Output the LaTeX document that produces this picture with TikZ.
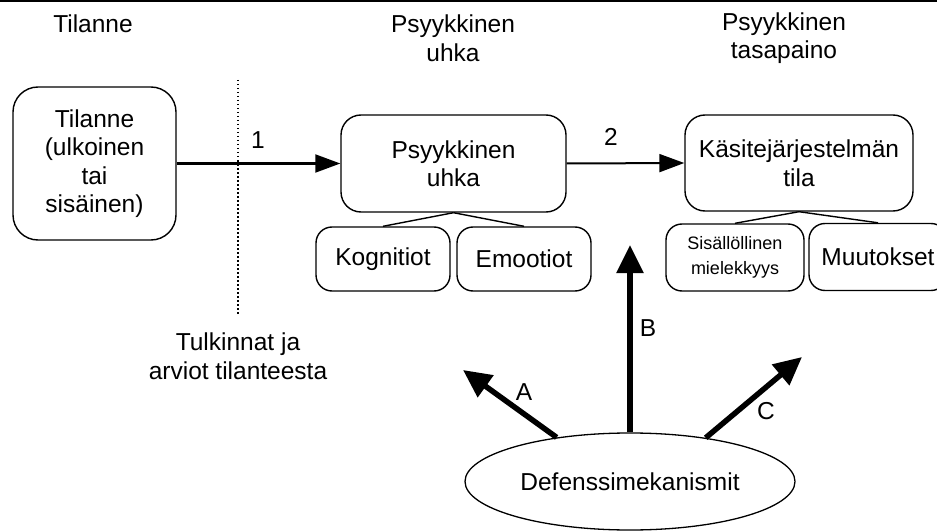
\documentclass[tikz,border=0pt]{standalone}
\usepackage{fontspec}
\setmainfont{Liberation Sans}
\usetikzlibrary{arrows.meta,shapes.geometric}
\begin{document}
\begin{tikzpicture}[x=1pt,y=-1pt,
  every node/.style={font=\fontsize{24.5}{28.5}\selectfont, align=center, inner sep=0pt},
  rbox/.style={draw, line width=1.4pt, rounded corners=20pt},
  sbox/.style={draw, line width=1.4pt, rounded corners=16pt},
  smalltext/.style={font=\fontsize{18}{25}\selectfont},
  link/.style={line width=1.4pt},
  flow/.style={line width=2pt, -{Triangle[length=25pt,width=18pt]}},
  thickarrow/.style={line width=5.5pt, -{Triangle[length=28pt,width=26pt]}},
  dotline/.style={line width=1.5pt, dash pattern=on 1.5pt off 2.5pt}
]
\path[use as bounding box, clip] (0,0) rectangle (937,532);
\fill[white] (0,0) rectangle (937,532);

% top rule
\coordinate (tl) at (0,1);
\coordinate (tr) at (937,1);
\draw[line width=1.5pt] (tl) -- (tr);

% headers
\node (h1) at (93,24) {Tilanne};
\node (h2) at (453,38) {Psyykkinen\\uhka};
\node (h3) at (784,38) {Psyykkinen\\tasapaino};

% main boxes
\node[rbox, rounded corners=25pt, minimum width=163pt, minimum height=153pt] (sit) at (94.5,163.5)
  {Tilanne\\(ulkoinen\\tai\\sisäinen)};
\node[rbox, minimum width=225pt, minimum height=97pt] (pu) at (453.5,163.5) {Psyykkinen\\uhka};
\node[rbox, minimum width=228pt, minimum height=96pt] (kj) at (799,163) {Käsitejärjestelmän\\tila};

% sub boxes
\node[sbox, minimum width=134pt, minimum height=64pt] (kog) at (383,259) {Kognitiot};
\node[sbox, minimum width=134pt, minimum height=64pt] (emo) at (524,259) {Emootiot};
\node[sbox, smalltext, minimum width=138pt, minimum height=67pt] (sis) at (735,257.5) {Sisällöllinen\\mielekkyys};
\node[sbox, minimum width=138pt, minimum height=67pt] (muu) at (878,257) {Muutokset};

% links to sub boxes
\draw[link] (pu.south) -- (kog.north);
\draw[link] (pu.south) -- (emo.north);
\draw[link] (kj.south) -- (sis.north);
\draw[link] (kj.south) -- (muu.north);

% flow arrows
\draw[flow] (sit.east) -- (pu.west);
\draw[flow] (pu.east) -- (kj.west);
\node (l1) at (258,140) {1};
\node (l2) at (611,137) {2};

% dotted divider
\coordinate (d1) at (238,80);
\coordinate (d2) at (238,315);
\draw[dotline] (d1) -- (d2);
\node (tulk) at (238,356) {Tulkinnat ja\\arviot tilanteesta};

% defence mechanisms
\node[ellipse, draw, line width=1.3pt, minimum width=330pt, minimum height=97pt] (def) at (630,481.5) {Defenssimekanismit};
\coordinate (ta) at (463,370);
\coordinate (tb) at (630,245);
\coordinate (tc) at (802,357);
\draw[thickarrow] (def.149) -- (ta);
\draw[thickarrow] (def.north) -- (tb);
\draw[thickarrow] (def.30.5) -- (tc);
\node (la) at (524,392) {A};
\node (lb) at (648,328) {B};
\node (lc) at (766,411) {C};
\end{tikzpicture}
\end{document}
